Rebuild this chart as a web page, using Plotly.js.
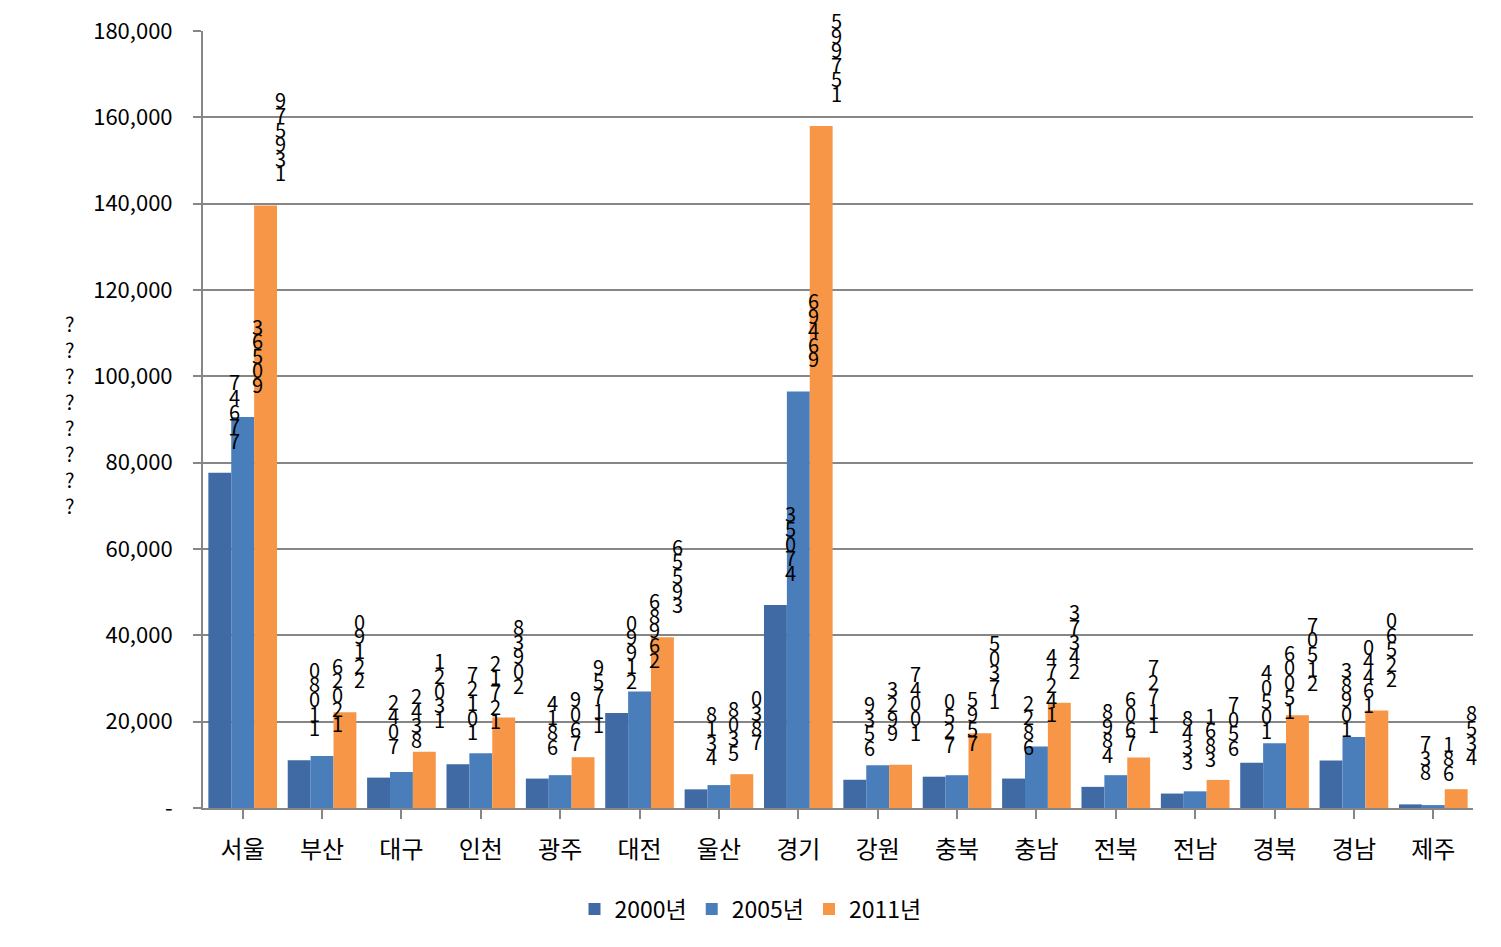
<!DOCTYPE html>
<html>
<head>
<meta charset="utf-8">
<script src="https://cdn.plot.ly/plotly-3.0.1.min.js"></script>
<style>html,body{margin:0;padding:0;background:#fff;}#chart{width:1501px;height:947px;}</style>
</head>
<body>
<div id="chart"></div>
<script>
const regions = ['서울','부산','대구','인천','광주','대전','울산','경기','강원','충북','충남','전북','전남','경북','경남','제주'];
const v2000 = [77647, 11080, 7042, 10127, 6814, 21990, 4318, 47053, 6539, 7250, 6822, 4898, 3348, 10504, 10983, 837];
const v2005 = [90563, 12026, 8342, 12712, 7609, 26986, 5308, 96496, 9923, 7595, 14274, 7606, 3861, 15006, 16440, 681];
const v2011 = [139579, 22190, 13021, 20938, 11759, 39556, 7830, 157995, 10047, 17305, 24373, 11727, 6507, 21507, 22560, 4358];
const seriesNames = ['2000년','2005년','2011년'];
const yTickVals = [0,20000,40000,60000,80000,100000,120000,140000,160000,180000];
const yTickText = ['-','20,000','40,000','60,000','80,000','100,000','120,000','140,000','160,000','180,000'];
const yTitleChars = ['?','?','?','?','?','?','?','?'];

const colors = ['#3F6AA4','#4A7EBB','#F79646'];
const font = '"Noto Sans CJK KR", "Open Sans", sans-serif';
const series = [v2000, v2005, v2011];
const bargap = 0.135;
const xIdx = regions.map((_, i) => i);

const traces = series.map((vals, k) => ({
  type: 'bar', x: xIdx, y: vals, name: seriesNames[k],
  marker: {color: colors[k]}, hoverinfo: 'x+y'
}));

// stacked digit labels (as shown in the reference)
const annotations = [];
const w = (1 - bargap) / 3;
series.forEach((vals, k) => {
  vals.forEach((v, i) => {
    const s = String(v);
    for (let j = 0; j < s.length; j++) {
      annotations.push({
        x: i + (k - 1) * w, y: v, xref: 'x', yref: 'y',
        text: s[j], showarrow: false, xanchor: 'center', yanchor: 'bottom',
        xshift: 15, yshift: 16 + j * 14.6,
        font: {family: font, size: 20, color: '#000'}
      });
    }
  });
});
// y-axis title (rendered as question marks in the reference)
annotations.push({
  xref: 'paper', yref: 'paper', x: -0.105, y: 0.368, xanchor: 'center', yanchor: 'bottom',
  text: yTitleChars.join('<br>'), showarrow: false,
  font: {family: font, size: 20, color: '#000'}
});

const layout = {
  width: 1501, height: 947,
  margin: {l: 203, r: 28, t: 31, b: 139},
  paper_bgcolor: '#fff', plot_bgcolor: '#fff',
  barmode: 'group', bargap: bargap, bargroupgap: 0,
  font: {family: font, size: 21, color: '#000'},
  xaxis: {
    tickmode: 'array', tickvals: xIdx, ticktext: regions,
    range: [-0.5, 15.5],
    showline: true, linecolor: '#868686', linewidth: 2,
    ticks: 'outside', tickson: 'boundaries', ticklen: 9, tickcolor: '#868686', tickwidth: 2,
    ticklabelstandoff: 10,
    tickfont: {family: font, size: 24, color: '#000'},
    showgrid: false, zeroline: false
  },
  yaxis: {
    range: [0, 180000], tickmode: 'array', tickvals: yTickVals, ticktext: yTickText,
    showline: true, linecolor: '#868686', linewidth: 2,
    ticks: 'outside', ticklen: 8, tickcolor: '#868686', tickwidth: 2,
    ticklabelstandoff: 16,
    showgrid: true, gridcolor: '#868686', gridwidth: 2,
    zeroline: false,
    tickfont: {family: font, size: 22, color: '#000'}
  },
  legend: {
    orientation: 'h', xref: 'container', yref: 'container',
    x: 0.5, xanchor: 'center', y: 0.04, yanchor: 'middle',
    font: {family: font, size: 23, color: '#000'}, traceorder: 'normal',
    itemwidth: 30
  },
  showlegend: true,
  annotations: annotations
};

Plotly.newPlot('chart', traces, layout, {displayModeBar: false, staticPlot: true});
</script>
</body>
</html>
